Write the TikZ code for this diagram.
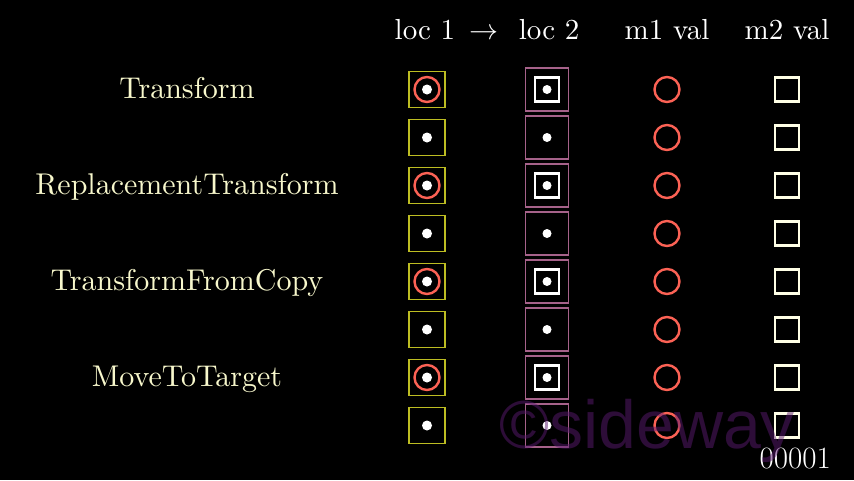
\documentclass[tikz,border=0pt]{standalone}
\usepackage{fontspec}
\newfontfamily\wmfont{Liberation Sans}
\definecolor{bgc}{HTML}{000000}
\definecolor{locone}{HTML}{BDBD22}
\definecolor{loctwo}{HTML}{A6628A}
\definecolor{redc}{HTML}{FC6255}
\definecolor{sqc}{HTML}{FFFFE6}
\definecolor{lblc}{HTML}{F8F8CC}
\definecolor{wmc}{HTML}{5A1A70}
\newcommand{\tbig}[2]{\scalebox{#1}{\fontsize{10}{12}\selectfont #2}}
\begin{document}
\begin{tikzpicture}[x=1pt,y=-1pt,
  onebox/.style={draw=locone,line width=1.8pt,minimum size=36pt,inner sep=0pt},
  twobox/.style={draw=loctwo,line width=1.4pt,minimum size=43pt,inner sep=0pt},
  innerbox/.style={draw=white,line width=2.6pt,minimum size=24pt,inner sep=0pt},
  redring/.style={draw=redc,line width=2.4pt,circle,minimum size=25pt,inner sep=0pt},
  mone/.style={draw=redc,line width=2.4pt,circle,minimum size=25pt,inner sep=0pt},
  mtwo/.style={draw=sqc,line width=2.6pt,minimum size=24pt,inner sep=0pt},
  dotn/.style={fill=white,circle,minimum size=10pt,inner sep=0pt},
  lbl/.style={text=lblc,anchor=base,inner sep=0pt},
  hdr/.style={text=white,anchor=base,inner sep=0pt},
  wm/.style={text=wmc,opacity=0.5,font=\wmfont\fontsize{68}{80}\selectfont,anchor=base west,inner sep=0pt}]
\fill[bgc] (0,0) rectangle (854,480);
\useasboundingbox (0,0) rectangle (854,480);
% headers
\node[hdr] (h1) at (487,39) {\tbig{2.9}{loc 1\hspace{5pt}$\rightarrow$\hspace{7pt}loc 2}};
\node[hdr] (h2) at (667,39) {\tbig{2.9}{m1 val}};
\node[hdr] (h3) at (787,39) {\tbig{2.9}{m2 val}};
% labels
\node[lbl] (l1) at (187,98) {\tbig{3.0}{Transform}};
\node[lbl] (l2) at (187,194) {\tbig{3.0}{ReplacementTransform}};
\node[lbl] (l3) at (187,290) {\tbig{3.0}{TransformFromCopy}};
\node[lbl] (l4) at (187,386) {\tbig{3.0}{MoveToTarget}};
% grid
\foreach \k in {0,...,7} {
  \pgfmathsetmacro\yy{89.5+48*\k}
  \node[onebox] (a\k) at (427,\yy) {};
  \node[twobox] (b\k) at (547,\yy) {};
  \node[mone] (c\k) at (667,\yy) {};
  \node[mtwo] (d\k) at (787,\yy) {};
  \ifodd\k\else
    \node[redring] (r\k) at (a\k.center) {};
    \node[innerbox] (s\k) at (b\k.center) {};
  \fi
  \node[dotn] (p\k) at (a\k.center) {};
  \node[dotn,minimum size=9pt] (q\k) at (b\k.center) {};
}
% frame counter
\node[text=white,font=\fontsize{31}{36}\selectfont,anchor=base east,inner sep=0pt] (cnt) at (831,468) {00001};
% watermark
\node[wm] (w) at (499,448) {©sideway};
\end{tikzpicture}
\end{document}
